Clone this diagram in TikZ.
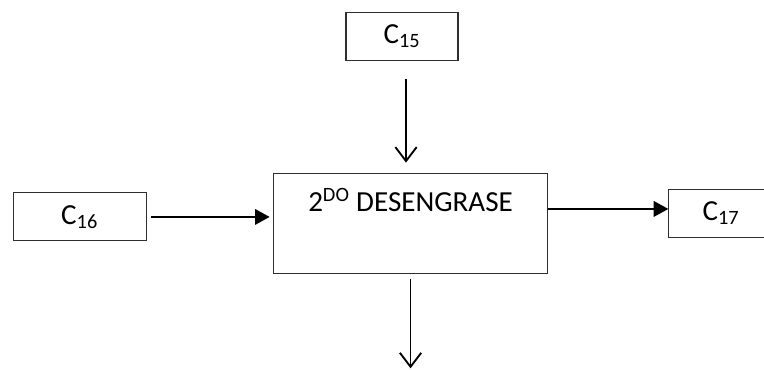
\documentclass[tikz,border=0pt]{standalone}
\usepackage{fontspec}
\setmainfont{Carlito}
\usepackage{xcolor}
\usepackage{tikz}
\usetikzlibrary{arrows.meta,positioning,calc}
\definecolor{ink}{HTML}{000000}
\definecolor{frame}{HTML}{2E2E2E}
\tikzset{
  flow diagram/.style={
    font=\fontsize{21.8}{26}\selectfont,
    line join=miter
  },
  streambox/.style={
    draw=frame,
    line width=0.8pt,
    minimum height=36pt,
    inner sep=0pt,
    align=center
  },
  procbox/.style={
    streambox,
    minimum width=206pt,
    text height=29pt,
    text depth=46.5pt
  },
  feedarrow/.style={-{Triangle[length=11pt,width=11.5pt]}, draw=ink, line width=1.9pt},
  droparrow/.style={-{Straight Barb[length=10.5pt,width=16pt]}, draw=ink, line width=1.4pt}
}

\begin{document}
\begin{tikzpicture}[flow diagram]
\useasboundingbox (0,0) rectangle (573pt,-276.75pt);
\node[procbox] (proc) at (307.9pt,-167.6pt) {2\textsuperscript{DO} DESENGRASE};
\node[streambox, minimum width=84pt, above=84pt of proc, xshift=-6.4pt] (c15) {C\textsubscript{15}};
\node[streambox, minimum width=99.75pt, left=94.5pt of proc, yshift=4.9pt] (c16) {C\textsubscript{16}};
\node[streambox, minimum width=78pt, right=90pt of proc, yshift=7.5pt] (c17) {C\textsubscript{17}};
\coordinate[below=70.5pt of proc.south] (waste);
\draw[droparrow, shorten <=13.5pt, shorten >=7.5pt] ([xshift=3pt]c15.south) -- ([xshift=3pt]c15.south |- proc.north);
\draw[feedarrow, shorten <=3pt, shorten >=2.25pt] (c16.east) -- (c16.east -| proc.west);
\draw[feedarrow] ([yshift=3.4pt]c17.west -| proc.east) -- ([yshift=3.4pt]c17.west);
\draw[droparrow, shorten <=3.75pt] (proc.south) -- (waste);
\end{tikzpicture}
\end{document}
